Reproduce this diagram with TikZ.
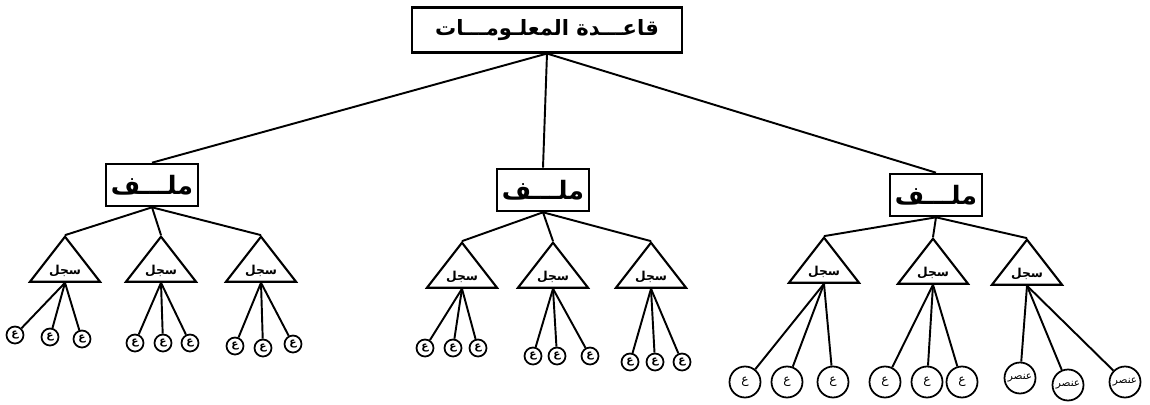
\documentclass[tikz,border=0pt]{standalone}
\usepackage{fontspec}
\usepackage{tikz}
\usetikzlibrary{shapes.geometric}
\newfontfamily\arabicfont[Script=Arabic]{DejaVu Sans}
\TeXXeTstate=1
\newcommand{\artext}[1]{{\arabicfont\beginR #1\endR}}
\tikzstyle{dbbox} = [rectangle, minimum width = 5.4cm, minimum height=0.9cm, text centered, draw = black, line width=1.2pt, font=\large\bfseries]
\tikzstyle{filebox} = [rectangle, minimum width = 1.85cm, minimum height=0.85cm, inner sep=1pt, text centered, draw = black, line width=1.2pt, font=\Large\bfseries]
\tikzstyle{recordtri} = [isosceles triangle, shape border rotate=90, isosceles triangle apex angle=85, isosceles triangle stretches, minimum width = 1.4cm, minimum height=0.9cm, inner sep=0pt, draw = black, line width=1.2pt, font=\scriptsize\bfseries]
\tikzstyle{leaf} = [circle, minimum size=0.34cm, inner sep=0pt, draw = black, line width=1pt, font=\fontsize{6}{6}\selectfont\bfseries]
\tikzstyle{bigleaf} = [circle, minimum size=0.62cm, inner sep=0pt, draw = black, line width=1pt, font=\fontsize{7}{7}\selectfont]
\tikzstyle{link} = [line width=1.1pt]

\begin{document}
\begin{tikzpicture}[node distance = 1.5cm]
\useasboundingbox (0,0) rectangle (23,-8.08);

\node(database) [dbbox] at (10.94,-0.6) {\artext{قاعـــدة المعلـومـــات}};

\node(fileL) [filebox, below of = database, xshift=-7.9cm, yshift=-1.6cm] {\artext{ملـــف}};
\node(fileM) [filebox, below of = database, xshift=-0.08cm, yshift=-1.7cm] {\artext{ملـــف}};
\node(fileR) [filebox, below of = database, xshift=7.78cm, yshift=-1.8cm] {\artext{ملـــف}};

\node(recL1) [recordtri, below of = fileL, xshift=-1.74cm, yshift=-0.22cm] {\artext{سجل}};
\node(recL2) [recordtri, below of = fileL, xshift=0.18cm, yshift=-0.22cm] {\artext{سجل}};
\node(recL3) [recordtri, below of = fileL, xshift=2.18cm, yshift=-0.22cm] {\artext{سجل}};
\node(recM1) [recordtri, below of = fileM, xshift=-1.62cm, yshift=-0.24cm] {\artext{سجل}};
\node(recM2) [recordtri, below of = fileM, xshift=0.2cm, yshift=-0.24cm] {\artext{سجل}};
\node(recM3) [recordtri, below of = fileM, xshift=2.16cm, yshift=-0.24cm] {\artext{سجل}};
\node(recR1) [recordtri, below of = fileR, xshift=-2.24cm, yshift=-0.04cm] {\artext{سجل}};
\node(recR2) [recordtri, below of = fileR, xshift=-0.06cm, yshift=-0.06cm] {\artext{سجل}};
\node(recR3) [recordtri, below of = fileR, xshift=1.82cm, yshift=-0.08cm] {\artext{سجل}};

% fields of the left file
\node(eL1a) [leaf, below of = recL1, xshift=-1.0cm, yshift=0.22cm] {\artext{ع}};
\node(eL1b) [leaf, below of = recL1, xshift=-0.3cm, yshift=0.18cm] {\artext{ع}};
\node(eL1c) [leaf, below of = recL1, xshift=0.34cm, yshift=0.14cm] {\artext{ع}};
\node(eL2a) [leaf, below of = recL2, xshift=-0.52cm, yshift=0.06cm] {\artext{ع}};
\node(eL2b) [leaf, below of = recL2, xshift=0.04cm, yshift=0.06cm] {\artext{ع}};
\node(eL2c) [leaf, below of = recL2, xshift=0.58cm, yshift=0.06cm] {\artext{ع}};
\node(eL3a) [leaf, below of = recL3, xshift=-0.52cm] {\artext{ع}};
\node(eL3b) [leaf, below of = recL3, xshift=0.04cm, yshift=-0.04cm] {\artext{ع}};
\node(eL3c) [leaf, below of = recL3, xshift=0.64cm, yshift=0.04cm] {\artext{ع}};

% fields of the middle file
\node(eM1a) [leaf, below of = recM1, xshift=-0.74cm, yshift=0.08cm] {\artext{ع}};
\node(eM1b) [leaf, below of = recM1, xshift=-0.18cm, yshift=0.08cm] {\artext{ع}};
\node(eM1c) [leaf, below of = recM1, xshift=0.32cm, yshift=0.08cm] {\artext{ع}};
\node(eM2a) [leaf, below of = recM2, xshift=-0.4cm, yshift=-0.08cm] {\artext{ع}};
\node(eM2b) [leaf, below of = recM2, xshift=0.08cm, yshift=-0.08cm] {\artext{ع}};
\node(eM2c) [leaf, below of = recM2, xshift=0.74cm, yshift=-0.08cm] {\artext{ع}};
\node(eM3a) [leaf, below of = recM3, xshift=-0.42cm, yshift=-0.2cm] {\artext{ع}};
\node(eM3b) [leaf, below of = recM3, xshift=0.08cm, yshift=-0.2cm] {\artext{ع}};
\node(eM3c) [leaf, below of = recM3, xshift=0.62cm, yshift=-0.2cm] {\artext{ع}};

% fields of the right file
\node(eR1a) [bigleaf, below of = recR1, xshift=-1.58cm, yshift=-0.7cm] {\artext{ع}};
\node(eR1b) [bigleaf, below of = recR1, xshift=-0.74cm, yshift=-0.7cm] {\artext{ع}};
\node(eR1c) [bigleaf, below of = recR1, xshift=0.18cm, yshift=-0.7cm] {\artext{ع}};
\node(eR2a) [bigleaf, below of = recR2, xshift=-0.96cm, yshift=-0.68cm] {\artext{ع}};
\node(eR2b) [bigleaf, below of = recR2, xshift=-0.12cm, yshift=-0.68cm] {\artext{ع}};
\node(eR2c) [bigleaf, below of = recR2, xshift=0.58cm, yshift=-0.68cm] {\artext{ع}};
\node(eR3a) [bigleaf, below of = recR3, xshift=-0.14cm, yshift=-0.58cm, font=\fontsize{6}{6}\selectfont] {\artext{عنصر}};
\node(eR3b) [bigleaf, below of = recR3, xshift=0.82cm, yshift=-0.72cm, font=\fontsize{6}{6}\selectfont] {\artext{عنصر}};
\node(eR3c) [bigleaf, below of = recR3, xshift=1.96cm, yshift=-0.66cm, font=\fontsize{6}{6}\selectfont] {\artext{عنصر}};

\draw [link] (database.south) -- (fileL.north);
\draw [link] (database.south) -- (fileM.north);
\draw [link] (database.south) -- (fileR.north);

\draw [link] (fileL.south) -- (recL1.north);
\draw [link] (fileL.south) -- (recL2.north);
\draw [link] (fileL.south) -- (recL3.north);
\draw [link] (fileM.south) -- (recM1.north);
\draw [link] (fileM.south) -- (recM2.north);
\draw [link] (fileM.south) -- (recM3.north);
\draw [link] (fileR.south) -- (recR1.north);
\draw [link] (fileR.south) -- (recR2.north);
\draw [link] (fileR.south) -- (recR3.north);

\draw [link] (recL1.south) -- (eL1a); \draw [link] (recL1.south) -- (eL1b); \draw [link] (recL1.south) -- (eL1c);
\draw [link] (recL2.south) -- (eL2a); \draw [link] (recL2.south) -- (eL2b); \draw [link] (recL2.south) -- (eL2c);
\draw [link] (recL3.south) -- (eL3a); \draw [link] (recL3.south) -- (eL3b); \draw [link] (recL3.south) -- (eL3c);
\draw [link] (recM1.south) -- (eM1a); \draw [link] (recM1.south) -- (eM1b); \draw [link] (recM1.south) -- (eM1c);
\draw [link] (recM2.south) -- (eM2a); \draw [link] (recM2.south) -- (eM2b); \draw [link] (recM2.south) -- (eM2c);
\draw [link] (recM3.south) -- (eM3a); \draw [link] (recM3.south) -- (eM3b); \draw [link] (recM3.south) -- (eM3c);
\draw [link] (recR1.south) -- (eR1a); \draw [link] (recR1.south) -- (eR1b); \draw [link] (recR1.south) -- (eR1c);
\draw [link] (recR2.south) -- (eR2a); \draw [link] (recR2.south) -- (eR2b); \draw [link] (recR2.south) -- (eR2c);
\draw [link] (recR3.south) -- (eR3a); \draw [link] (recR3.south) -- (eR3b); \draw [link] (recR3.south) -- (eR3c);

\end{tikzpicture}
\end{document}
